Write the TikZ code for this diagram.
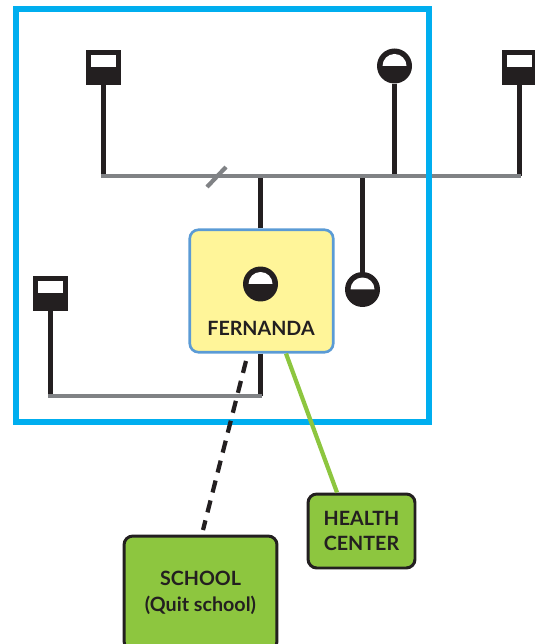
\documentclass[tikz,border=0pt]{standalone}
\usepackage{fontspec}
\setmainfont{Lato}
\definecolor{kinblack}{HTML}{231F20}
\definecolor{kingray}{HTML}{808285}
\definecolor{frameblue}{HTML}{00AEEF}
\definecolor{edgeblue}{HTML}{5B9BD5}
\definecolor{boxyellow}{HTML}{FFF599}
\definecolor{boxgreen}{HTML}{8DC63F}
\tikzset{
  stem/.style={line width=2.4pt, kinblack},
  tie/.style={line width=2.4pt, kingray},
  label text/.style={font=\bfseries\fontsize{11.2}{14.7}\selectfont, text=kinblack, align=center, inner sep=0pt},
  squarekin/.style={rectangle, fill=kinblack, minimum size=0.7cm, inner sep=0pt,
    path picture={\fill[white] ([xshift=-0.25cm]path picture bounding box.center) rectangle ([xshift=0.25cm, yshift=0.25cm]path picture bounding box.center);}},
  circlekin/.style={circle, fill=kinblack, minimum size=0.7cm, inner sep=0pt,
    path picture={\fill[white] ([xshift=-0.24cm]path picture bounding box.center) arc[start angle=180, end angle=0, radius=0.24cm] -- cycle;}},
  greenbox/.style={rectangle, rounded corners=5pt, draw=kinblack, fill=boxgreen, line width=1.7pt, label text},
}
\begin{document}
\begin{tikzpicture}[x=0.02cm, y=-0.02cm]
  \useasboundingbox (0,0) rectangle (534,644);
  % tie lines
  \coordinate (topleft) at (101,176); \coordinate (topright) at (521,176);
  \coordinate (lowleft) at (48,396); \coordinate (lowright) at (262,396);
  \coordinate (slashA) at (207,187); \coordinate (slashB) at (226,167);
  % kin symbols
  \node[squarekin] (uncle) at (103.5,67.5) {};
  \node[squarekin] (brother) at (519.5,67.5) {};
  \node[squarekin] (father) at (50.5,293.5) {};
  \node[circlekin] (aunt) at (394.5,66) {};
  \node[circlekin] (sister) at (362.5,289.5) {};
  % Fernanda and the two outside boxes
  \node[rectangle, rounded corners=5pt, draw=edgeblue, fill=boxyellow, line width=1.5pt, minimum width=2.87cm, minimum height=2.45cm, inner sep=0pt] (fernanda) at (261.5,291) {};
  \node[circlekin] (ego) at (260.5,284) {};
  \node[label text] (egoname) at (261,328) {FERNANDA};
  \node[greenbox, minimum width=2.14cm, minimum height=1.48cm, inner sep=0pt] (health) at (361.5,531) {HEALTH\\CENTER};
  \node[greenbox, minimum width=3.06cm, minimum height=2.28cm, inner sep=0pt] (school) at (200.5,593) {SCHOOL\\(Quit school)};
  % stems
  \draw[stem] (uncle.south) -- (uncle.south |- topleft);
  \draw[stem] (brother.south) -- (brother.south |- topright);
  \draw[stem] (aunt.south) -- (aunt.south |- topleft);
  \draw[stem] (sister.north) -- (sister.north |- topleft);
  \draw[stem] (ego |- fernanda.north) -- (ego |- topleft);
  \draw[stem] (father.south) -- (father.south |- lowleft);
  \draw[stem] (ego |- fernanda.south) -- (ego |- lowleft);
  \draw[tie] (topleft) -- (topright);
  \draw[tie] (lowleft) -- (lowright);
  \draw[tie] (slashA) -- (slashB);
  % household frame
  \draw[frameblue, line width=3.1pt] (16,9) rectangle (429,422);
  % links to the outside
  \coordinate (quitA) at (246,361); \coordinate (quitB) at (203,530);
  \draw[stem, dash pattern=on 7pt off 4.7pt] (quitA) -- (quitB);
  \draw[boxgreen, line width=2.4pt] ([xshift=0.49cm]fernanda.south) -- ([xshift=-0.49cm]health.north);
\end{tikzpicture}
\end{document}
